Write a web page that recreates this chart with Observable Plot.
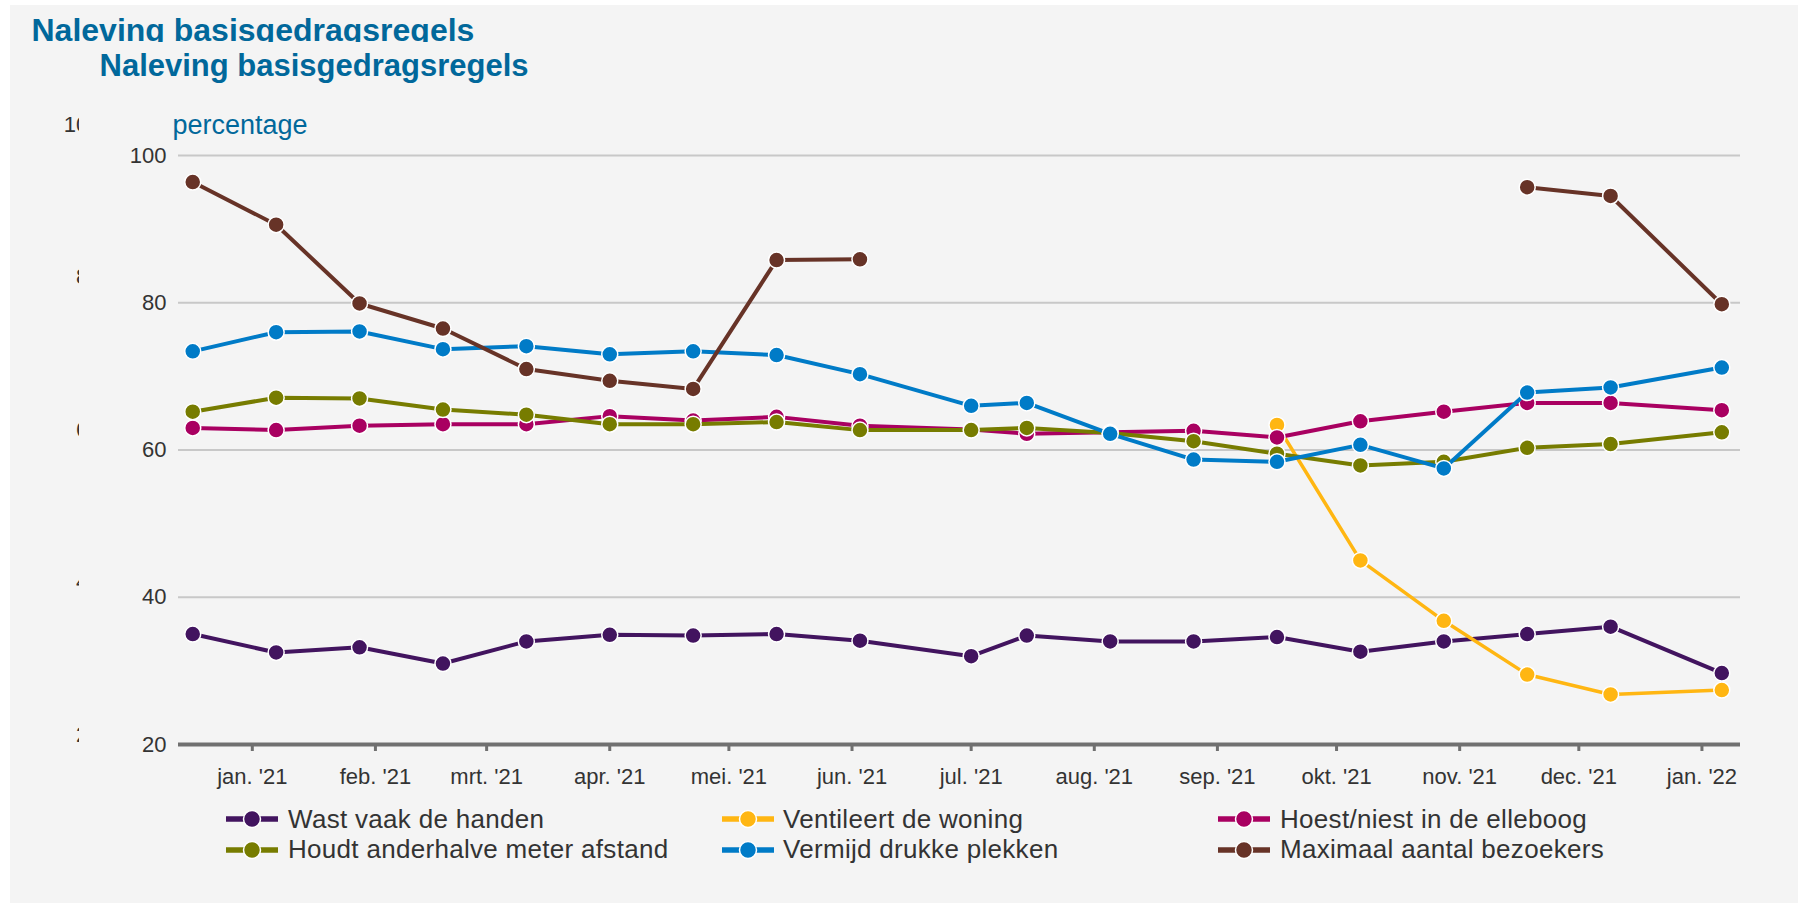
<!DOCTYPE html>
<html>
<head>
<meta charset="utf-8">
<script src="https://cdn.jsdelivr.net/npm/d3@7"></script>
<script src="https://cdn.jsdelivr.net/npm/@observablehq/plot@0.6"></script>
<style>
  html, body { margin: 0; padding: 0; }
  body { width: 1798px; height: 903px; overflow: hidden; background: #ffffff; position: relative;
         font-family: "Liberation Sans", Arial, sans-serif; }
  #panel { position: absolute; left: 10px; top: 5px; width: 1788px; height: 898px; background: #f4f4f4; }
  .abs { position: absolute; white-space: nowrap; }
  .title { font-weight: bold; font-size: 31px; line-height: 31px; color: #01689b; }
  #title1wrap { position: absolute; left: 0; top: 14px; width: 700px; height: 27.7px; overflow: hidden; }
  #title1 { font-size: 32px; line-height: 32px; }
  #ylabel { font-size: 27px; line-height: 27px; color: #01689b; left: 172.5px; top: 111.6px; }
  #chart { position: absolute; left: 0; top: 0; }
  #ghost { position: absolute; left: 0; top: 0; width: 78.5px; height: 800px; overflow: hidden; }
  #ghost svg, #chart svg { max-width: none !important; }
  .leg { position: absolute; font-size: 26px; line-height: 26px; letter-spacing: 0.3px; color: #333333; white-space: nowrap; }
  .sym { position: absolute; }
</style>
</head>
<body>
<div id="panel"></div>
<div id="title1wrap"><div class="abs title" id="title1" style="left:31.5px; top:0px;">Naleving basisgedragsregels</div></div>
<div class="abs title" style="left:99.5px; top:50.3px;">Naleving basisgedragsregels</div>
<div id="ghost"></div>
<div id="chart"></div>
<div class="abs" id="ylabel">percentage</div>
<div id="legend"></div>
<script>
// ---- data ----
const dates = ["2020-12-17","2021-01-07","2021-01-28","2021-02-18","2021-03-11","2021-04-01","2021-04-22",
  "2021-05-13","2021-06-03","2021-07-01","2021-07-15","2021-08-05","2021-08-26","2021-09-16","2021-10-07",
  "2021-10-28","2021-11-18","2021-12-09","2022-01-06"];

const seriesNames = ["Wast vaak de handen", "Ventileert de woning", "Hoest/niest in de elleboog",
  "Houdt anderhalve meter afstand", "Vermijd drukke plekken", "Maximaal aantal bezoekers"];
const seriesColors = ["#42145f", "#ffb612", "#a90061", "#777c00", "#007bc7", "#673327"];

const wastHanden = [35.0, 32.5, 33.2, 31.0, 34.0, 34.9, 34.8, 35.0, 34.1, 32.0, 34.8, 34.0, 34.0, 34.6, 32.6, 34.0, 35.0, 36.0, 29.7];
const ventileert = [null, null, null, null, null, null, null, null, null, null, null, null, null, 63.4, 45.0, 36.8, 29.5, 26.8, 27.4];
const hoestNiest = [63.0, 62.7, 63.3, 63.5, 63.5, 64.6, 64.0, 64.5, 63.3, 62.8, 62.2, 62.4, 62.6, 61.7, 63.9, 65.2, 66.4, 66.4, 65.4];
const afstand = [65.2, 67.1, 67.0, 65.5, 64.8, 63.5, 63.5, 63.8, 62.7, 62.7, 63.0, 62.3, 61.2, 59.5, 57.9, 58.4, 60.3, 60.8, 62.4];
const drukte = [73.4, 76.0, 76.1, 73.7, 74.1, 73.0, 73.4, 72.9, 70.3, 66.0, 66.4, 62.2, 58.7, 58.4, 60.7, 57.5, 67.8, 68.5, 71.2];
const bezoekers = [96.4, 90.6, 79.9, 76.5, 71.0, 69.4, 68.3, 85.8, 85.9, null, null, null, null, null, null, null, 95.7, 94.5, 79.8];

const seriesValues = [wastHanden, ventileert, hoestNiest, afstand, drukte, bezoekers];

const tickDates = ["2021-01-01","2021-02-01","2021-03-01","2021-04-01","2021-05-01","2021-06-01","2021-07-01",
  "2021-08-01","2021-09-01","2021-10-01","2021-11-01","2021-12-01","2022-01-01"];
const tickLabels = ["jan. '21","feb. '21","mrt. '21","apr. '21","mei. '21","jun. '21","jul. '21",
  "aug. '21","sep. '21","okt. '21","nov. '21","dec. '21","jan. '22"];
const yTicks = [20, 40, 60, 80, 100];
const xDomain = ["2020-12-13T10:00:00Z", "2022-01-10T17:00:00Z"];

// ---- build ----
const parse = s => new Date(s.length === 10 ? s + "T00:00:00Z" : s);
const tickDateObjs = tickDates.map(parse);
const labelByTime = new Map(tickDateObjs.map((d, i) => [+d, tickLabels[i]]));

const marks = [
  Plot.gridY(yTicks.filter(v => v > 20), {stroke: "#c8c8c8", strokeOpacity: 1, strokeWidth: 2}),
  Plot.axisY(yTicks, {tickSize: 0, tickPadding: 12, label: null, fill: "#333333"}),
  Plot.ruleY([20], {stroke: "#707070", strokeWidth: 4}),
  Plot.axisX(tickDateObjs, {tickSize: 7, tickPadding: 17, label: null, stroke: "#707070", strokeWidth: 3,
    fill: "#333333", tickFormat: d => labelByTime.get(+d)})
];

seriesNames.forEach((name, k) => {
  const rows = dates.map((d, i) => ({date: parse(d), value: seriesValues[k][i]}));
  const color = seriesColors[k];
  marks.push(Plot.line(rows, {x: "date", y: "value", stroke: color, strokeWidth: k === 1 ? 3.5 : 4,
    strokeLinejoin: "round", strokeLinecap: "round"}));
  marks.push(Plot.dot(rows.filter(r => r.value != null), {x: "date", y: "value", r: 8, fill: color,
    stroke: "#ffffff", strokeWidth: 1.5}));
});

const chart = Plot.plot({
  width: 1798,
  height: 800,
  marginLeft: 178,
  marginRight: 58,
  marginTop: 155,
  marginBottom: 56,
  style: {background: "transparent", fontSize: "22px", fontFamily: "'Liberation Sans', Arial, sans-serif", color: "#333333", overflow: "visible"},
  x: {type: "utc", domain: xDomain.map(parse), label: null},
  y: {domain: [20, 100], label: null},
  marks
});
document.getElementById("chart").appendChild(chart);

// clipped duplicate y axis (as in the reference)
const ghost = Plot.plot({
  width: 200,
  height: 800,
  marginLeft: 110,
  marginRight: 0,
  marginTop: 124.5,
  marginBottom: 66,
  style: {background: "transparent", fontSize: "22px", fontFamily: "'Liberation Sans', Arial, sans-serif", color: "#333333", maxWidth: "none"},
  y: {domain: [20, 100], label: null},
  marks: [Plot.axisY(yTicks, {tickSize: 0, tickPadding: 10, label: null, fill: "#333333"})]
});
document.getElementById("ghost").appendChild(ghost);

// legend
const legend = document.getElementById("legend");
const colSym = [226, 722, 1218];
const colText = [288, 783, 1280];
const rowCenter = [819.3, 850];
seriesNames.forEach((name, k) => {
  const row = Math.floor(k / 3), col = k % 3;
  const svgNS = "http://www.w3.org/2000/svg";
  const svg = document.createElementNS(svgNS, "svg");
  svg.setAttribute("width", 52); svg.setAttribute("height", 22);
  svg.setAttribute("class", "sym");
  svg.style.left = colSym[col] + "px";
  svg.style.top = (rowCenter[row] - 11) + "px";
  const ln = document.createElementNS(svgNS, "line");
  ln.setAttribute("x1", 0); ln.setAttribute("x2", 52); ln.setAttribute("y1", 11); ln.setAttribute("y2", 11);
  ln.setAttribute("stroke", seriesColors[k]); ln.setAttribute("stroke-width", 5.5);
  const c = document.createElementNS(svgNS, "circle");
  c.setAttribute("cx", 26); c.setAttribute("cy", 11); c.setAttribute("r", 8.5);
  c.setAttribute("fill", seriesColors[k]); c.setAttribute("stroke", "#ffffff"); c.setAttribute("stroke-width", 1.5);
  svg.appendChild(ln); svg.appendChild(c);
  legend.appendChild(svg);
  const t = document.createElement("div");
  t.className = "leg";
  t.textContent = name;
  t.style.left = colText[col] + "px";
  t.style.top = (rowCenter[row] - 13.6) + "px";
  legend.appendChild(t);
});
</script>
</body>
</html>
